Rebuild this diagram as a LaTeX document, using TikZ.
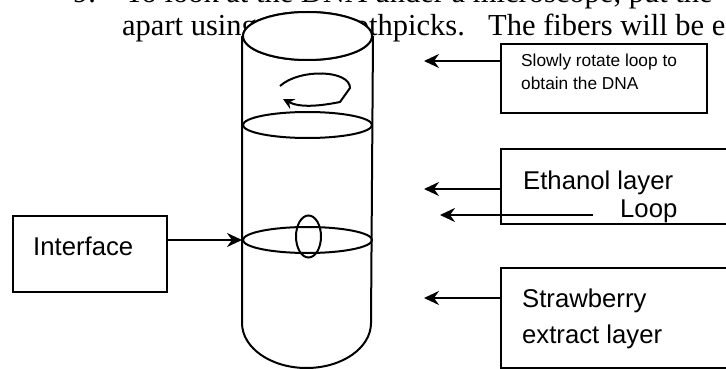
\documentclass[tikz,border=0pt]{standalone}
\usepackage{fontspec}
\setmainfont{Liberation Serif}
\newfontfamily\arial{Liberation Sans}
\usetikzlibrary{arrows.meta, shapes.geometric}

\begin{document}
\begin{tikzpicture}[x=1pt, y=-1pt,
    tube/.style={line width=2pt},
    layer/.style={ellipse, draw, line width=2pt, inner sep=0pt, minimum width=129pt},
    box/.style={rectangle, draw, fill=white, line width=2pt, inner sep=0pt, anchor=north west},
    arrow/.style={-{Stealth[length=15pt, width=14pt, inset=5pt]}, line width=2pt},
    label/.style={font=\arial\fontsize{25.7}{30}\selectfont, anchor=base west, inner sep=0pt},
    note/.style={font=\arial\fontsize{17.3}{23}\selectfont, anchor=base west, inner sep=0pt},
    para/.style={font=\fontsize{30.5}{34}\selectfont, anchor=base west, inner sep=0pt}
]

\useasboundingbox (0,0) rectangle (726,369);
\fill[white] (0,0) rectangle (726,369);
\clip (0,0) rectangle (726,369);

\node[para] (num) at (73,3) {9.};
\node[para] (line1) at (125,3) {To look at the DNA under a microscope, put the};
\node[para] (line2a) at (122,36) {apart using};
\node[para] (line2b) at (330,36) {toothpicks.};
\node[para] (line2c) at (488,36) {The fibers will be e};

\coordinate (base) at (307.5,323);
\node[layer, minimum height=48pt] (rim) at (307.5,36) {};
\draw[tube] (rim.west) -- (rim.west |- base)
    arc[start angle=180, end angle=0, x radius=64.5, y radius=45] -- (rim.east);
\node[layer, minimum height=48pt, fill=white] at (rim) {};
\node[layer, minimum height=26pt] (ethsurf) at (307.5,125) {};
\node[layer, minimum height=26pt] (iface) at (307.5,240) {};
\node[ellipse, draw, line width=2pt, inner sep=0pt, minimum width=25pt, minimum height=42pt] (loop) at (308.5,236.5) {};

\draw[tube, -{Stealth[length=11pt, width=11pt, inset=4pt]}]
    (280,86) .. controls (300,68) and (350,70) .. (350,88) -- (340,102)
    .. controls (320,106) and (300,108) .. (283,99);

\node[box, minimum width=206pt, minimum height=69pt] (rotbox) at (500,43) {};
\node[box, minimum width=240pt, minimum height=75pt] (ethbox) at (500,148) {};
\node[box, minimum width=240pt, minimum height=100pt] (strawbox) at (500,267) {};
\node[box, minimum width=154pt, minimum height=76pt] (ifbox) at (12,215) {};

\node[note] (rot1) at (521,66.7) {Slowly rotate loop to};
\node[note] (rot2) at (521,90) {obtain the DNA};
\node[label] (eth) at (523,189) {Ethanol layer};
\node[label] (looplbl) at (620,217) {Loop};
\node[label] (straw1) at (522,307) {Strawberry};
\node[label] (straw2) at (522,343) {extract layer};
\node[label] (iftext) at (33,255) {Interface};

\coordinate (rottip) at (424,61);
\coordinate (ethtip) at (424,189);
\coordinate (looptip) at (440,215);
\coordinate (strawtip) at (424,298);

\draw[arrow] (rotbox.west |- rottip) -- (rottip);
\draw[arrow] (ethbox.west |- ethtip) -- (ethtip);
\draw[arrow] ([xshift=-27pt]looplbl.west |- looptip) -- (looptip);
\draw[arrow] (strawbox.west |- strawtip) -- (strawtip);
\draw[arrow] (ifbox.east |- iface.west) -- (iface.west);

\end{tikzpicture}
\end{document}
